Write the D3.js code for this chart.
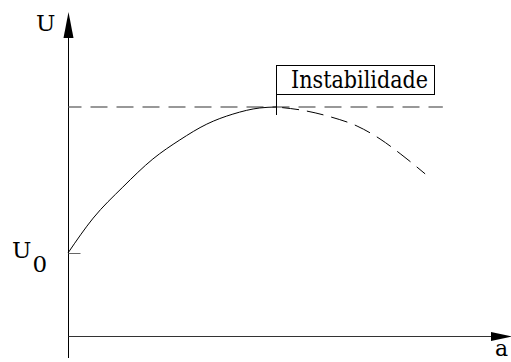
<!DOCTYPE html>
<html>
<head>
<meta charset="utf-8">
<script src="https://cdn.jsdelivr.net/npm/d3@7"></script>
<style>
  html, body { margin: 0; padding: 0; background: #fff; }
</style>
</head>
<body>
<div id="chart"></div>
<script>
// values (abstract units, a on x, U on y)
var stable_a   = [0, 0.57, 1.24, 1.92, 2.53, 3.14, 3.73, 4.34, 4.71];
var stable_u   = [2.57, 3.65, 4.61, 5.48, 6.07, 6.56, 6.87, 7.06, 7.09];
var unstable_a = [4.71, 5.38, 5.95, 6.54, 7.06, 7.53, 8.08];
var unstable_u = [7.09, 6.97, 6.78, 6.50, 6.10, 5.63, 5.02];
var u0_value    = 2.57;
var peak_a      = 4.71;
var peak_u      = 7.09;
var level_end_a = 8.48;
var label_peak  = "Instabilidade";
var label_y     = "U";
var label_x     = "a";

var width_chart  = 511;
var height_chart = 362;
var font_chart   = "'DejaVu Serif', 'Liberation Serif', serif";

var x_chart = d3.scaleLinear().domain([0, 10]).range([68, 510]);
var y_chart = d3.scaleLinear().domain([0, 10]).range([336, 13]);

var svg_chart = d3.select("#chart").append("svg")
  .attr("width", width_chart)
  .attr("height", height_chart)
  .attr("font-family", font_chart);

var x0 = Math.round(x_chart(0)) + 0.5;
var y0 = Math.round(y_chart(0)) + 0.5;

// axes
svg_chart.append("line")
  .attr("x1", x0).attr("x2", x0)
  .attr("y1", 36).attr("y2", 358)
  .attr("stroke", "#000").attr("stroke-width", 1);
svg_chart.append("path")
  .attr("d", "M" + x0 + ",12 L" + (x0 - 5) + ",38 L" + (x0 + 5) + ",38 Z")
  .attr("fill", "#000");

svg_chart.append("line")
  .attr("x1", x0).attr("x2", 492)
  .attr("y1", y0).attr("y2", y0)
  .attr("stroke", "#333").attr("stroke-width", 1);
svg_chart.append("path")
  .attr("d", "M512," + y0 + " L491," + (y0 - 4.5) + " L491," + (y0 + 4.5) + " Z")
  .attr("fill", "#000");

// U0 tick
var y_u0 = Math.round(y_chart(u0_value)) + 0.5;
svg_chart.append("line")
  .attr("x1", x0).attr("x2", x0 + 12)
  .attr("y1", y_u0).attr("y2", y_u0)
  .attr("stroke", "#666").attr("stroke-width", 1);

// axis labels
svg_chart.append("text")
  .attr("x", 36).attr("y", 31)
  .style("font-family", font_chart)
  .style("font-size", "23px")
  .text(label_y);
var u0_text = svg_chart.append("text")
  .attr("x", 12).attr("y", 258)
  .style("font-family", font_chart)
  .style("font-size", "23px");
u0_text.append("tspan").text("U");
u0_text.append("tspan").attr("dx", 1).attr("dy", 14).text("0");
svg_chart.append("text")
  .attr("x", 495).attr("y", 356)
  .style("font-family", font_chart)
  .style("font-size", "22px")
  .text(label_x);

// instability level
svg_chart.append("line")
  .attr("x1", x0).attr("x2", x_chart(level_end_a))
  .attr("y1", y_chart(peak_u)).attr("y2", y_chart(peak_u))
  .attr("stroke", "#777").attr("stroke-width", 1.6)
  .attr("stroke-dasharray", "17,9")
  .attr("stroke-dashoffset", 4);

// curves
var line_chart = d3.line()
  .curve(d3.curveMonotoneX)
  .x(function (d) { return x_chart(d[0]); })
  .y(function (d) { return y_chart(d[1]); });

svg_chart.append("path")
  .datum(d3.zip(stable_a, stable_u))
  .attr("d", line_chart)
  .attr("fill", "none")
  .attr("stroke", "#000")
  .attr("stroke-width", 1);

svg_chart.append("path")
  .datum(d3.zip(unstable_a, unstable_u))
  .attr("d", line_chart)
  .attr("fill", "none")
  .attr("stroke", "#000")
  .attr("stroke-width", 1)
  .attr("stroke-dasharray", "17,8")
  .attr("stroke-dashoffset", -6);

// peak marker and label box
var x_peak = Math.round(x_chart(peak_a)) + 0.5;
svg_chart.append("line")
  .attr("x1", x_peak).attr("x2", x_peak)
  .attr("y1", 65).attr("y2", 115)
  .attr("stroke", "#000").attr("stroke-width", 1);
svg_chart.append("rect")
  .attr("x", x_peak).attr("y", 65.5)
  .attr("width", 158).attr("height", 29)
  .attr("fill", "none")
  .attr("stroke", "#000").attr("stroke-width", 1);
svg_chart.append("text")
  .attr("x", 291).attr("y", 88)
  .attr("textLength", 137)
  .attr("lengthAdjust", "spacingAndGlyphs")
  .style("font-family", font_chart)
  .style("font-size", "24px")
  .text(label_peak);
</script>
</body>
</html>
